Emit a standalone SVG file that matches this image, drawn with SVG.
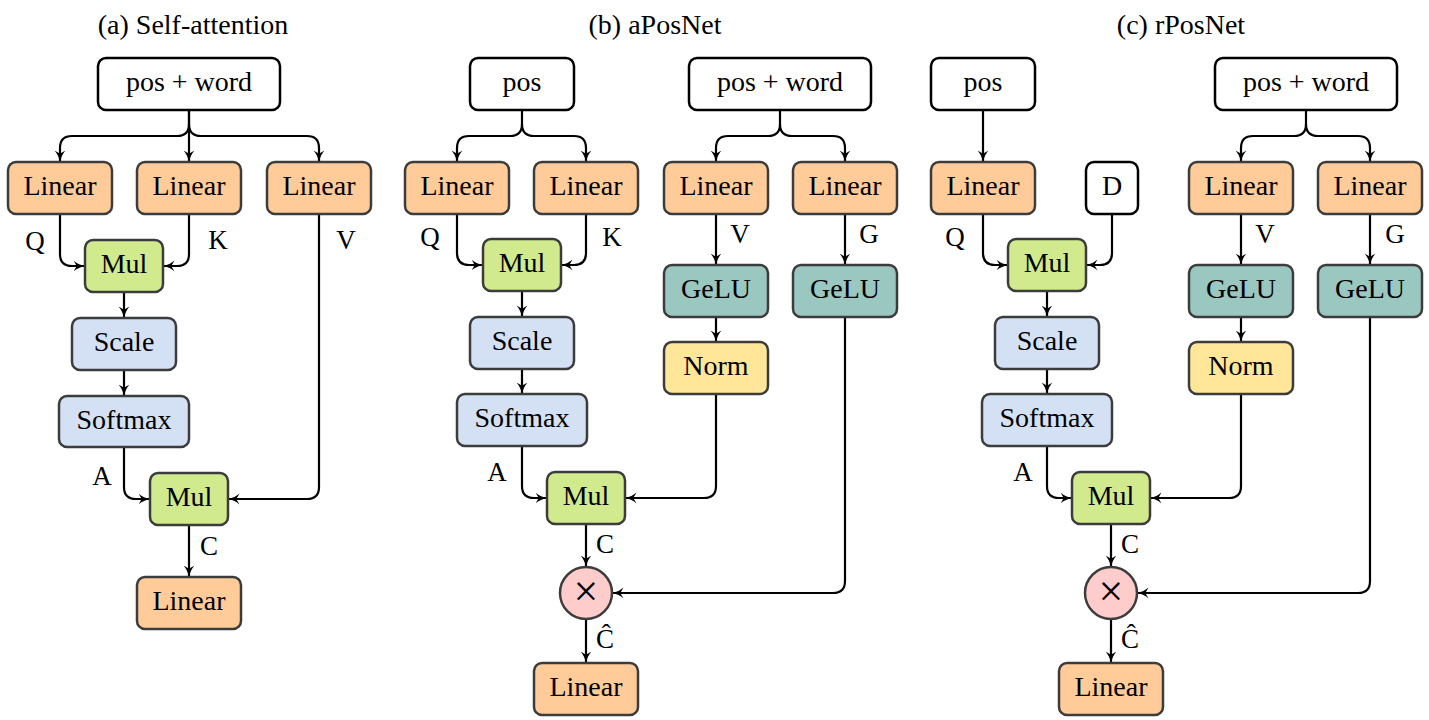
<svg xmlns="http://www.w3.org/2000/svg" width="1429" height="720" viewBox="0 0 1429 720" font-family="Liberation Serif, DejaVu Serif, serif">
<style>
text { font-family: "Liberation Serif", "DejaVu Serif", serif; fill: #000; }
.t { font-size: 28px; text-anchor: middle; }
.lb { font-size: 27px; text-anchor: middle; }
.n { stroke: #3c3c3c; stroke-width: 2.5; }
.lin { fill: #ffcc99; }
.mul { fill: #d0ea8d; }
.blu { fill: #d4e1f5; }
.gel { fill: #9ac7bf; }
.nrm { fill: #ffe699; }
.wht { fill: #ffffff; stroke: #000; }
.op { fill: #ffcccc; }
.c path { fill: none; stroke: #000; stroke-width: 2.2; marker-end: url(#ah); }
</style>
<defs>
<marker id="ah" viewBox="0 -6 12 12" refX="11.5" refY="0" markerWidth="12" markerHeight="12" markerUnits="userSpaceOnUse" orient="auto">
<path d="M0,-5.5 Q4.5,-1.3 12,0 Q4.5,1.3 0,5.5 L3.2,0 Z" fill="#000"/>
</marker>
</defs>
<rect width="1429" height="720" fill="#fff"/>

<g id="titles">
<text class="t" x="193" y="34">(a) Self-attention</text>
<text class="t" x="655" y="34">(b) aPosNet</text>
<text class="t" x="1181" y="34">(c) rPosNet</text>
</g>

<g id="connectors" class="c">
<path d="M189,110 V124 Q189,136 177,136 H72 Q60,136 60,148 V162"/>
<path d="M189,110 V162"/>
<path d="M189,124 Q189,136 201,136 H307 Q319,136 319,148 V162"/>
<path d="M60,214 V254 Q60,266 72,266 H85"/>
<path d="M189,214 V254 Q189,266 177,266 H163"/>
<path d="M124,292 V318"/>
<path d="M124,370 V396"/>
<path d="M124,447 V487 Q124,499 136,499 H150"/>
<path d="M319,214 V487 Q319,499 307,499 H228"/>
<path d="M189,525 V577"/>
<path d="M522,110 V124 Q522,136 510,136 H469 Q457,136 457,148 V162"/>
<path d="M522,124 Q522,136 534,136 H574 Q586,136 586,148 V162"/>
<path d="M780,110 V124 Q780,136 768,136 H728 Q716,136 716,148 V162"/>
<path d="M780,124 Q780,136 792,136 H833 Q845,136 845,148 V162"/>
<path d="M457,214 V253 Q457,265 469,265 H483"/>
<path d="M586,214 V253 Q586,265 574,265 H561"/>
<path d="M522,291 V317"/>
<path d="M522,369 V394"/>
<path d="M522,446 V486 Q522,498 534,498 H547"/>
<path d="M716,214 V265"/>
<path d="M845,214 V265"/>
<path d="M716,317 V342"/>
<path d="M716,394 V486 Q716,498 704,498 H625"/>
<path d="M586,524 V567"/>
<path d="M845,317 V581 Q845,593 833,593 H612"/>
<path d="M586,619 V663"/>
<path d="M983,110 V162"/>
<path d="M1306,110 V124 Q1306,136 1294,136 H1253 Q1241,136 1241,148 V162"/>
<path d="M1306,124 Q1306,136 1318,136 H1358 Q1370,136 1370,148 V162"/>
<path d="M983,214 V253 Q983,265 995,265 H1008"/>
<path d="M1112,214 V253 Q1112,265 1100,265 H1086"/>
<path d="M1047,291 V317"/>
<path d="M1047,369 V394"/>
<path d="M1047,446 V486 Q1047,498 1059,498 H1072"/>
<path d="M1241,214 V265"/>
<path d="M1370,214 V265"/>
<path d="M1241,317 V342"/>
<path d="M1241,394 V486 Q1241,498 1229,498 H1150"/>
<path d="M1111,524 V567"/>
<path d="M1370,317 V581 Q1370,593 1358,593 H1137"/>
<path d="M1111,619 V663"/>
</g>

<g id="edge-labels">
<text class="lb" x="35" y="250">Q</text>
<text class="lb" x="218" y="249">K</text>
<text class="lb" x="346" y="249">V</text>
<text class="lb" x="102" y="485">A</text>
<text class="lb" x="209" y="555">C</text>
<text class="lb" x="430" y="246">Q</text>
<text class="lb" x="612" y="246">K</text>
<text class="lb" x="740" y="243">V</text>
<text class="lb" x="869" y="243">G</text>
<text class="lb" x="497" y="481">A</text>
<text class="lb" x="605" y="553">C</text>
<text class="lb" x="605" y="648">Ĉ</text>
<text class="lb" x="955" y="246">Q</text>
<text class="lb" x="1265" y="243">V</text>
<text class="lb" x="1395" y="243">G</text>
<text class="lb" x="1023" y="481">A</text>
<text class="lb" x="1130" y="553">C</text>
<text class="lb" x="1130" y="648">Ĉ</text>
</g>

<g id="a-input"><rect class="n wht" x="98" y="58" width="182" height="52" rx="8"/><text class="t" x="189" y="91">pos + word</text></g>
<g id="a-linear-q"><rect class="n lin" x="8" y="162" width="104" height="52" rx="8"/><text class="t" x="60" y="195">Linear</text></g>
<g id="a-linear-k"><rect class="n lin" x="137" y="162" width="104" height="52" rx="8"/><text class="t" x="189" y="195">Linear</text></g>
<g id="a-linear-v"><rect class="n lin" x="267" y="162" width="104" height="52" rx="8"/><text class="t" x="319" y="195">Linear</text></g>
<g id="a-mul1"><rect class="n mul" x="85" y="240" width="78" height="52" rx="8"/><text class="t" x="124" y="273">Mul</text></g>
<g id="a-scale"><rect class="n blu" x="72" y="318" width="104" height="52" rx="8"/><text class="t" x="124" y="351">Scale</text></g>
<g id="a-softmax"><rect class="n blu" x="59" y="396" width="130" height="51" rx="8"/><text class="t" x="124" y="429">Softmax</text></g>
<g id="a-mul2"><rect class="n mul" x="150" y="473" width="78" height="52" rx="8"/><text class="t" x="189" y="506">Mul</text></g>
<g id="a-linear-out"><rect class="n lin" x="137" y="577" width="104" height="52" rx="8"/><text class="t" x="189" y="610">Linear</text></g>

<g id="b-pos"><rect class="n wht" x="470" y="58" width="104" height="52" rx="8"/><text class="t" x="522" y="91">pos</text></g>
<g id="b-input"><rect class="n wht" x="689" y="58" width="182" height="52" rx="8"/><text class="t" x="780" y="91">pos + word</text></g>
<g id="b-linear-q"><rect class="n lin" x="405" y="162" width="104" height="52" rx="8"/><text class="t" x="457" y="195">Linear</text></g>
<g id="b-linear-k"><rect class="n lin" x="534" y="162" width="104" height="52" rx="8"/><text class="t" x="586" y="195">Linear</text></g>
<g id="b-linear-v"><rect class="n lin" x="664" y="162" width="104" height="52" rx="8"/><text class="t" x="716" y="195">Linear</text></g>
<g id="b-linear-g"><rect class="n lin" x="793" y="162" width="104" height="52" rx="8"/><text class="t" x="845" y="195">Linear</text></g>
<g id="b-mul1"><rect class="n mul" x="483" y="239" width="78" height="52" rx="8"/><text class="t" x="522" y="272">Mul</text></g>
<g id="b-gelu-v"><rect class="n gel" x="664" y="265" width="104" height="52" rx="8"/><text class="t" x="716" y="298">GeLU</text></g>
<g id="b-gelu-g"><rect class="n gel" x="793" y="265" width="104" height="52" rx="8"/><text class="t" x="845" y="298">GeLU</text></g>
<g id="b-scale"><rect class="n blu" x="470" y="317" width="104" height="52" rx="8"/><text class="t" x="522" y="350">Scale</text></g>
<g id="b-norm"><rect class="n nrm" x="664" y="342" width="104" height="52" rx="8"/><text class="t" x="716" y="375">Norm</text></g>
<g id="b-softmax"><rect class="n blu" x="457" y="394" width="130" height="52" rx="8"/><text class="t" x="522" y="427">Softmax</text></g>
<g id="b-mul2"><rect class="n mul" x="547" y="472" width="78" height="52" rx="8"/><text class="t" x="586" y="505">Mul</text></g>
<g id="b-times"><circle class="n op" cx="586" cy="593" r="26"/><text x="586" y="606" font-size="44" text-anchor="middle">×</text></g>
<g id="b-linear-out"><rect class="n lin" x="534" y="663" width="104" height="52" rx="8"/><text class="t" x="586" y="696">Linear</text></g>

<g id="c-pos"><rect class="n wht" x="931" y="58" width="104" height="52" rx="8"/><text class="t" x="983" y="91">pos</text></g>
<g id="c-input"><rect class="n wht" x="1215" y="58" width="182" height="52" rx="8"/><text class="t" x="1306" y="91">pos + word</text></g>
<g id="c-linear-q"><rect class="n lin" x="931" y="162" width="104" height="52" rx="8"/><text class="t" x="983" y="195">Linear</text></g>
<g id="c-d"><rect class="n wht" x="1086" y="162" width="52" height="52" rx="8"/><text class="t" x="1112" y="195">D</text></g>
<g id="c-linear-v"><rect class="n lin" x="1189" y="162" width="104" height="52" rx="8"/><text class="t" x="1241" y="195">Linear</text></g>
<g id="c-linear-g"><rect class="n lin" x="1318" y="162" width="104" height="52" rx="8"/><text class="t" x="1370" y="195">Linear</text></g>
<g id="c-mul1"><rect class="n mul" x="1008" y="239" width="78" height="52" rx="8"/><text class="t" x="1047" y="272">Mul</text></g>
<g id="c-gelu-v"><rect class="n gel" x="1189" y="265" width="104" height="52" rx="8"/><text class="t" x="1241" y="298">GeLU</text></g>
<g id="c-gelu-g"><rect class="n gel" x="1318" y="265" width="104" height="52" rx="8"/><text class="t" x="1370" y="298">GeLU</text></g>
<g id="c-scale"><rect class="n blu" x="995" y="317" width="104" height="52" rx="8"/><text class="t" x="1047" y="350">Scale</text></g>
<g id="c-norm"><rect class="n nrm" x="1189" y="342" width="104" height="52" rx="8"/><text class="t" x="1241" y="375">Norm</text></g>
<g id="c-softmax"><rect class="n blu" x="982" y="394" width="130" height="52" rx="8"/><text class="t" x="1047" y="427">Softmax</text></g>
<g id="c-mul2"><rect class="n mul" x="1072" y="472" width="78" height="52" rx="8"/><text class="t" x="1111" y="505">Mul</text></g>
<g id="c-times"><circle class="n op" cx="1111" cy="593" r="26"/><text x="1111" y="606" font-size="44" text-anchor="middle">×</text></g>
<g id="c-linear-out"><rect class="n lin" x="1059" y="663" width="104" height="52" rx="8"/><text class="t" x="1111" y="696">Linear</text></g>
</svg>
